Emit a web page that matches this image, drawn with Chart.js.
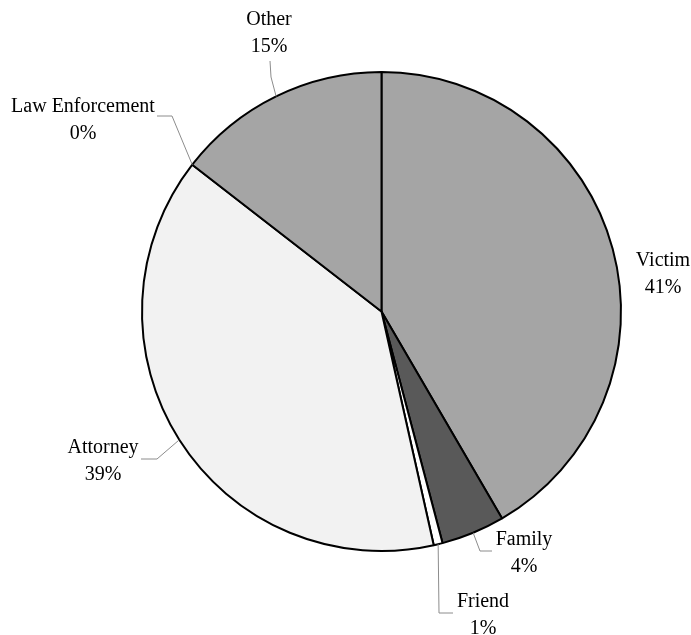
<!DOCTYPE html>
<html>
<head>
<meta charset="utf-8">
<script src="https://cdn.jsdelivr.net/npm/chart.js@4.4.0/dist/chart.umd.min.js"></script>
<style>
  html, body { margin: 0; padding: 0; background: #fff; }
  #wrap { width: 691px; height: 635px; }
</style>
</head>
<body>
<div id="wrap"><canvas id="pieChart" width="691" height="635"></canvas></div>
<script>
// Chart data
const categories = ['Victim', 'Family', 'Friend', 'Attorney', 'Law Enforcement', 'Other'];
const shares = [41.6, 4.3, 0.6, 39.0, 0, 14.5];
const shareLabels = ['41%', '4%', '1%', '39%', '0%', '15%'];
const sliceColors = ['#a5a5a5', '#595959', '#ffffff', '#f2f2f2', '#7f7f7f', '#a5a5a5'];

// Label placement (text centre x, first baseline y, leader elbow points from the slice edge)
const labelLayout = {
    'Victim': { x: 663, y: 266, leader: null },
    'Family': { x: 524, y: 545, leader: [[480, 551], [492, 551]] },
    'Friend': { x: 483, y: 607, leader: [[439, 613], [453, 613]] },
    'Attorney': { x: 103, y: 453, leader: [[157, 459], [141, 459]] },
    'Law Enforcement': { x: 83, y: 112, leader: [[172, 116], [157, 116]] },
    'Other': { x: 269, y: 25, leader: [[271, 77], [270, 61]] }
};

const lineHeight = 27;

// Draws category names, percentages and leader lines
const outsideLabels = {
    id: 'outsideLabels',
    afterDraw(chart) {
        const ctx = chart.ctx;
        const arcs = chart.getDatasetMeta(0).data;
        ctx.save();
        arcs.forEach((arc, i) => {
            const layout = labelLayout[categories[i]];
            if (!layout) return;
            if (layout.leader) {
                const mid = (arc.startAngle + arc.endAngle) / 2;
                const ax = arc.x + Math.cos(mid) * arc.outerRadius;
                const ay = arc.y + Math.sin(mid) * arc.outerRadius;
                ctx.beginPath();
                ctx.moveTo(ax, ay);
                layout.leader.forEach(p => ctx.lineTo(p[0], p[1]));
                ctx.strokeStyle = '#8c8c8c';
                ctx.lineWidth = 1;
                ctx.stroke();
            }
            ctx.fillStyle = '#000';
            ctx.font = '20px "Liberation Serif", "Times New Roman", serif';
            ctx.textAlign = 'center';
            ctx.textBaseline = 'alphabetic';
            ctx.fillText(categories[i], layout.x, layout.y);
            ctx.fillText(shareLabels[i], layout.x, layout.y + lineHeight);
        });
        ctx.restore();
    }
};

const ctx = document.getElementById('pieChart').getContext('2d');
new Chart(ctx, {
    type: 'pie',
    data: {
        labels: categories,
        datasets: [{
            data: shares,
            backgroundColor: sliceColors,
            borderColor: '#000000',
            borderWidth: 2
        }]
    },
    options: {
        responsive: false,
        animation: false,
        layout: {
            padding: { left: 141, right: 69, top: 71, bottom: 83 }
        },
        plugins: {
            legend: { display: false },
            tooltip: { enabled: false }
        }
    },
    plugins: [outsideLabels]
});
</script>
</body>
</html>
